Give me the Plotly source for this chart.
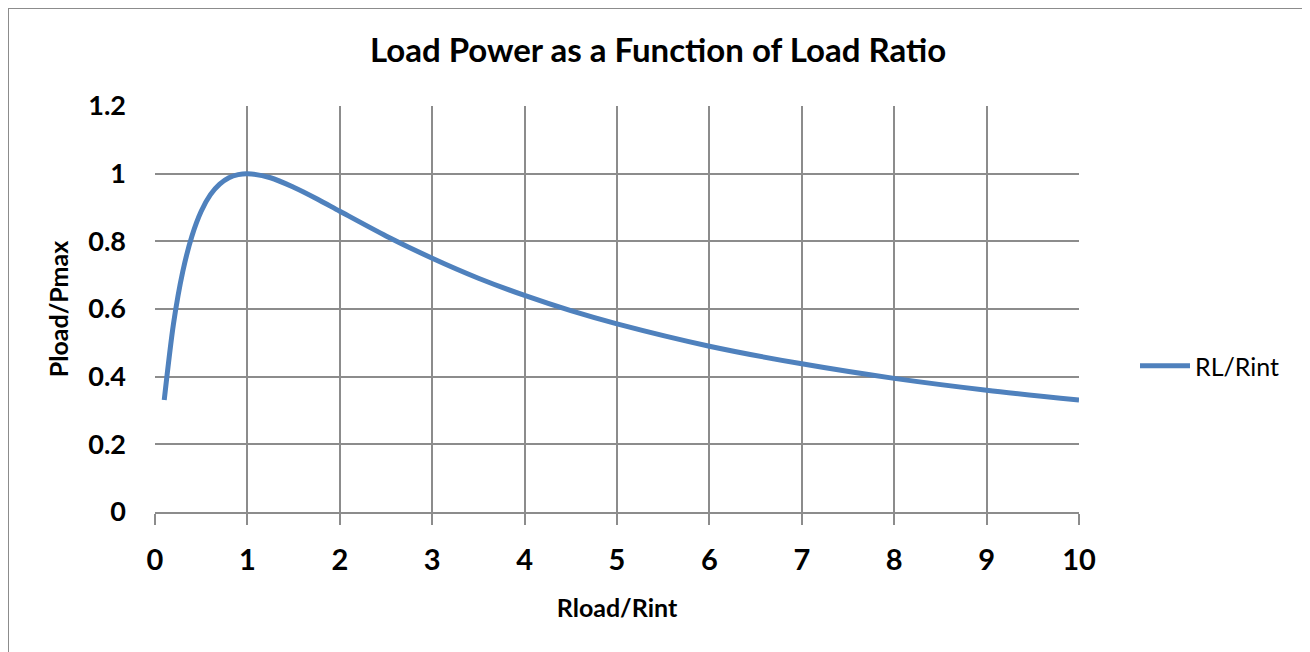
import plotly.graph_objects as go

ratio = [0.1, 0.2, 0.3, 0.4, 0.5, 0.6, 0.7, 0.8, 0.9, 1.0, 1.25, 1.5, 1.75, 2.0,
         2.5, 3.0, 3.5, 4.0, 4.5, 5.0, 6.0, 7.0, 8.0, 9.0, 10.0]
power = [0.331, 0.556, 0.710, 0.816, 0.889, 0.938, 0.969, 0.988, 0.997, 1.000,
         0.988, 0.960, 0.926, 0.889, 0.816, 0.750, 0.691, 0.640, 0.595, 0.556,
         0.490, 0.438, 0.395, 0.360, 0.331]
x_ticks = [0, 1, 2, 3, 4, 5, 6, 7, 8, 9, 10]
y_ticks = [0, 0.2, 0.4, 0.6, 0.8, 1, 1.2]
y_tick_text = ["0", "0.2", "0.4", "0.6", "0.8", "1", "1.2"]

FONT = "Lato, 'Open Sans', sans-serif"
GRID = "#8c8c8c"

# page offset of the plot div inside the browser window
OFF = 8
W, H = 1310 - OFF, 652 - OFF
L, R, T, B = 155 - OFF, 1310 - 1079, 106 - OFF, 652 - 512
pw, ph = W - L - R, H - T - B


def px(x):
    return (x - OFF - L) / pw


def py(y):
    return (H - B - (y - OFF)) / ph


fig = go.Figure()
fig.add_trace(go.Scatter(
    x=ratio, y=power, mode="lines", name="RL/Rint",
    line=dict(color="#4F81BD", width=5, shape="spline", smoothing=0.8),
))

fig.update_layout(
    width=W, height=H,
    margin=dict(l=L, r=R, t=T, b=B, autoexpand=False),
    paper_bgcolor="white", plot_bgcolor="white",
    font=dict(family=FONT, color="black"),
    title=dict(text="<b>Load Power as a Function of Load Ratio</b>",
               x=(658 - OFF) / W, xref="container", xanchor="center",
               y=1 - (50 - OFF) / H, yref="container", yanchor="middle",
               font=dict(size=33, family=FONT)),
    showlegend=True,
    legend=dict(x=px(1135), y=py(366), xanchor="left", yanchor="middle",
                font=dict(size=25, family=FONT), bgcolor="rgba(0,0,0,0)",
                itemwidth=50),
    xaxis=dict(range=[0, 10], tickvals=x_ticks, ticktext=[str(v) for v in x_ticks],
               showgrid=True, gridcolor=GRID, gridwidth=2,
               showline=True, linecolor=GRID, linewidth=2,
               ticks="outside", ticklen=11, tickwidth=2, tickcolor=GRID,
               tickfont=dict(size=29, family=FONT, weight="bold"),
               ticklabelstandoff=10,
               title=dict(text="<b>Rload/Rint</b>", font=dict(size=25, family=FONT),
                          standoff=25),
               zeroline=False, fixedrange=True),
    yaxis=dict(range=[0, 1.2], tickvals=y_ticks, ticktext=y_tick_text,
               showgrid=True, gridcolor=GRID, gridwidth=2,
               showline=False, ticks="",
               tickfont=dict(size=27, family=FONT, weight="bold"),
               ticklabelstandoff=28,
               title=dict(text="<b>Pload/Pmax</b>", font=dict(size=25, family=FONT),
                          standoff=12),
               zeroline=False, fixedrange=True),
)

# outer chart border
fig.add_shape(type="rect", xref="paper", yref="paper",
              x0=px(8), x1=px(1320), y0=py(660), y1=py(8),
              line=dict(color="#8c8c8c", width=2), fillcolor="rgba(0,0,0,0)",
              layer="below")

fig.write_html("out.html")
